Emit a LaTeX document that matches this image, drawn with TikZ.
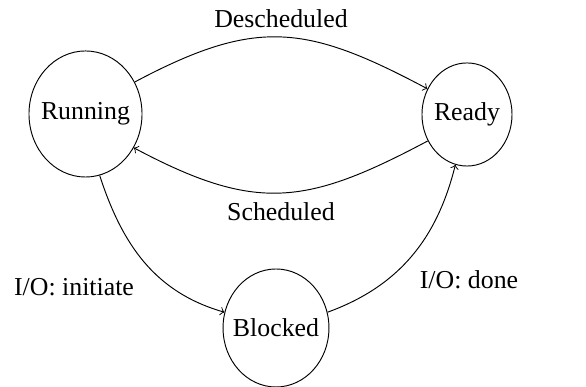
\documentclass[tikz,border=0pt]{standalone}
\usepackage{fontspec}
\setmainfont{Liberation Serif}
\usetikzlibrary{shapes.geometric}
\begin{document}
\begin{tikzpicture}[x=0.422pt,y=0.422pt,
    font=\fontsize{10.9}{13}\selectfont,
    proc/.style={draw,ellipse,inner sep=0pt},
    trans/.style={->}]
    \useasboundingbox (0,0) rectangle (586,387);

    % States
    \node[proc,minimum width=47.7pt,minimum height=53.2pt,label=center:Running] (run) at (85.5,273) {};
    \node[proc,minimum width=38pt,minimum height=43.5pt,label=center:Ready] (rdy) at (467,272.5) {};
    \node[proc,minimum width=44.7pt,minimum height=49.8pt,label=center:Blocked] (blk) at (276,59) {};

    % Transitions
    \draw[trans] (run.33) to[out=28,in=152,looseness=1.2] (rdy.147);
    \draw[trans] (rdy.214) to[out=208,in=-28,looseness=1.2] (run.-35);
    \draw[trans] (run.-77) to[out=-72,in=164] (blk.163);
    \draw[trans] (blk.17) to[out=20,in=-104] (rdy.-103);

    % Labels
    \node (desch) at (281,368) {Descheduled};
    \node (sched) at (281,175) {Scheduled};
    \node (ioini) at (74,100) {I/O: initiate};
    \node (iodone) at (469,107) {I/O: done};
\end{tikzpicture}
\end{document}
